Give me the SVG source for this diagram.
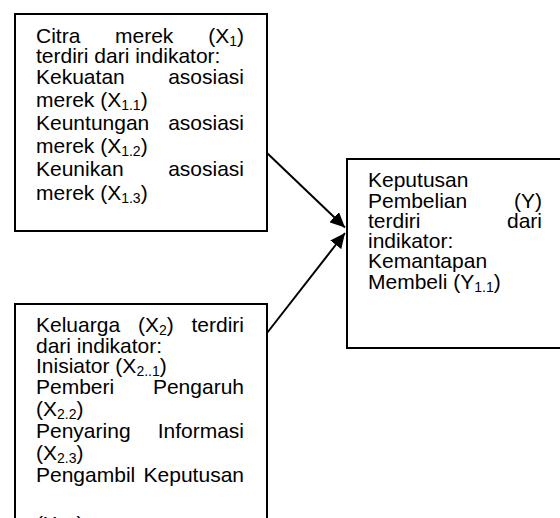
<svg xmlns="http://www.w3.org/2000/svg" width="560" height="518" viewBox="0 0 560 518">
<style>
.box{fill:#fff;stroke:#000;stroke-width:2}
.t{font-family:"Liberation Sans",Arial,sans-serif;font-size:21px;fill:#000}
.e{text-anchor:end}
.s{font-size:14px}
.edge{stroke:#000;stroke-width:2;fill:none}
</style>
<defs>
<marker id="ah" markerUnits="userSpaceOnUse" markerWidth="16" markerHeight="14" refX="15" refY="7" orient="auto">
<path d="M0,0 L15,7 L0,14 Z" fill="#000"/>
</marker>
</defs>
<rect width="560" height="518" fill="#fff"/>
<g id="connectors">
<line class="edge" x1="267" y1="153" x2="345" y2="227.5" marker-end="url(#ah)"/>
<line class="edge" x1="267" y1="333" x2="345" y2="233" marker-end="url(#ah)"/>
</g>
<g id="citra-merek">
<rect class="box" x="15" y="14" width="252" height="217"/>
<text class="t" x="36" y="43">Citra</text>
<text class="t" x="115" y="43">merek</text>
<text class="t e" x="244" y="43">(X<tspan class="s" dy="3">1</tspan><tspan dy="-3">)</tspan></text>
<text class="t" x="36" y="63">terdiri dari indikator:</text>
<text class="t" x="36" y="84">Kekuatan</text>
<text class="t e" x="244" y="84">asosiasi</text>
<text class="t" x="36" y="107">merek (X<tspan class="s" dy="3">1.1</tspan><tspan dy="-3">)</tspan></text>
<text class="t" x="36" y="130">Keuntungan</text>
<text class="t e" x="244" y="130">asosiasi</text>
<text class="t" x="36" y="153">merek (X<tspan class="s" dy="3">1.2</tspan><tspan dy="-3">)</tspan></text>
<text class="t" x="36" y="176">Keunikan</text>
<text class="t e" x="244" y="176">asosiasi</text>
<text class="t" x="36" y="200">merek (X<tspan class="s" dy="3">1.3</tspan><tspan dy="-3">)</tspan></text>
</g>
<g id="keluarga">
<rect class="box" x="15" y="304" width="252" height="240"/>
<text class="t" x="36" y="332">Keluarga</text>
<text class="t" x="138" y="332">(X<tspan class="s" dy="3">2</tspan><tspan dy="-3">)</tspan></text>
<text class="t e" x="244" y="332">terdiri</text>
<text class="t" x="36" y="353">dari indikator:</text>
<text class="t" x="36" y="373">Inisiator (X<tspan class="s" dy="3">2..1</tspan><tspan dy="-3">)</tspan></text>
<text class="t" x="36" y="394">Pemberi</text>
<text class="t e" x="244" y="394">Pengaruh</text>
<text class="t" x="36" y="416">(X<tspan class="s" dy="3">2.2</tspan><tspan dy="-3">)</tspan></text>
<text class="t" x="36" y="438">Penyaring</text>
<text class="t e" x="244" y="438">Informasi</text>
<text class="t" x="36" y="460">(X<tspan class="s" dy="3">2.3</tspan><tspan dy="-3">)</tspan></text>
<text class="t" x="36" y="482">Pengambil</text>
<text class="t e" x="244" y="482">Keputusan</text>
<text class="t" x="36" y="531">(X<tspan class="s" dy="3">2.4</tspan><tspan dy="-3">)</tspan></text>
</g>
<g id="keputusan-pembelian">
<rect class="box" x="347" y="159" width="225" height="189"/>
<text class="t" x="368" y="187">Keputusan</text>
<text class="t" x="368" y="208">Pembelian</text>
<text class="t e" x="542" y="208">(Y)</text>
<text class="t" x="368" y="228">terdiri</text>
<text class="t e" x="542" y="228">dari</text>
<text class="t" x="368" y="248">indikator:</text>
<text class="t" x="368" y="268">Kemantapan</text>
<text class="t" x="368" y="289">Membeli (Y<tspan class="s" dy="3">1.1</tspan><tspan dy="-3">)</tspan></text>
</g>
</svg>
